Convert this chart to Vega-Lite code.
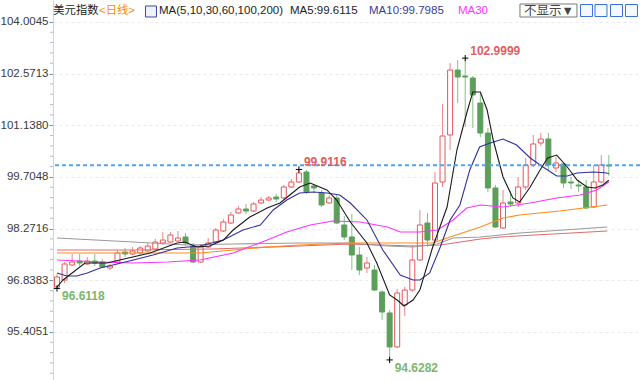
{
  "$schema": "https://vega.github.io/schema/vega-lite/v6.json",
  "width": 587,
  "height": 380,
  "autosize": {"type": "none"},
  "padding": {"left": 53, "top": 0, "right": 0, "bottom": 0},
  "background": "white",
  "config": {"view": {"stroke": null}, "font": "Liberation Sans, Noto Sans CJK SC"},
  "datasets": {
    "candles": [
      {"i":0,"o":96.651,"c":96.928,"h":97.011,"l":96.6118},
      {"i":1,"o":96.845,"c":97.289,"h":97.344,"l":96.762},
      {"i":2,"o":97.261,"c":97.344,"h":97.566,"l":97.233},
      {"i":3,"o":97.372,"c":97.317,"h":97.566,"l":97.233},
      {"i":4,"o":97.289,"c":97.372,"h":97.483,"l":97.261},
      {"i":5,"o":97.372,"c":97.317,"h":97.566,"l":97.233},
      {"i":6,"o":97.344,"c":97.205,"h":97.427,"l":97.178},
      {"i":7,"o":97.178,"c":97.233,"h":97.289,"l":97.122},
      {"i":8,"o":97.344,"c":97.594,"h":97.677,"l":97.289},
      {"i":9,"o":97.621,"c":97.566,"h":97.733,"l":97.483},
      {"i":10,"o":97.566,"c":97.649,"h":97.76,"l":97.538},
      {"i":11,"o":97.594,"c":97.733,"h":97.788,"l":97.538},
      {"i":12,"o":97.649,"c":97.788,"h":97.871,"l":97.621},
      {"i":13,"o":97.705,"c":97.899,"h":97.982,"l":97.677},
      {"i":14,"o":97.871,"c":97.954,"h":98.176,"l":97.816},
      {"i":15,"o":97.899,"c":98.093,"h":98.176,"l":97.871},
      {"i":16,"o":97.927,"c":98.01,"h":98.204,"l":97.899},
      {"i":17,"o":98.038,"c":97.871,"h":98.149,"l":97.788},
      {"i":18,"o":97.788,"c":97.344,"h":97.871,"l":97.317},
      {"i":19,"o":97.344,"c":97.76,"h":97.844,"l":97.317},
      {"i":20,"o":97.76,"c":97.871,"h":98.01,"l":97.733},
      {"i":21,"o":97.899,"c":98.232,"h":98.287,"l":97.871},
      {"i":22,"o":98.204,"c":98.454,"h":98.537,"l":98.176},
      {"i":23,"o":98.426,"c":98.648,"h":98.731,"l":98.398},
      {"i":24,"o":98.704,"c":98.814,"h":98.898,"l":98.676},
      {"i":25,"o":98.814,"c":98.759,"h":98.953,"l":98.676},
      {"i":26,"o":98.759,"c":98.953,"h":99.009,"l":98.731},
      {"i":27,"o":98.981,"c":99.064,"h":99.147,"l":98.953},
      {"i":28,"o":99.064,"c":99.12,"h":99.175,"l":99.037},
      {"i":29,"o":99.147,"c":99.092,"h":99.23,"l":99.009},
      {"i":30,"o":99.12,"c":99.425,"h":99.48,"l":99.092},
      {"i":31,"o":99.425,"c":99.563,"h":99.647,"l":99.397},
      {"i":32,"o":99.563,"c":99.813,"h":99.9116,"l":99.536},
      {"i":33,"o":99.841,"c":99.286,"h":99.896,"l":99.23},
      {"i":34,"o":99.453,"c":99.397,"h":99.508,"l":99.258},
      {"i":35,"o":99.258,"c":98.925,"h":99.342,"l":98.87},
      {"i":36,"o":98.981,"c":99.12,"h":99.203,"l":98.953},
      {"i":37,"o":99.12,"c":98.426,"h":99.203,"l":98.398},
      {"i":38,"o":98.371,"c":98.038,"h":98.62,"l":97.954},
      {"i":39,"o":98.038,"c":97.539,"h":98.676,"l":97.122},
      {"i":40,"o":97.539,"c":97.122,"h":97.76,"l":96.984},
      {"i":41,"o":97.178,"c":97.317,"h":97.483,"l":97.039},
      {"i":42,"o":97.122,"c":96.568,"h":97.261,"l":96.54},
      {"i":43,"o":96.512,"c":95.957,"h":96.568,"l":95.735},
      {"i":44,"o":95.93,"c":94.987,"h":96.013,"l":94.6282},
      {"i":45,"o":94.987,"c":96.484,"h":96.595,"l":94.959},
      {"i":46,"o":96.152,"c":96.568,"h":96.651,"l":95.846},
      {"i":47,"o":96.568,"c":97.4,"h":97.816,"l":96.512},
      {"i":48,"o":97.4,"c":98.371,"h":98.787,"l":97.372},
      {"i":49,"o":98.426,"c":97.954,"h":98.704,"l":97.76},
      {"i":50,"o":97.954,"c":99.536,"h":99.841,"l":97.871},
      {"i":51,"o":99.563,"c":100.839,"h":101.727,"l":99.425},
      {"i":52,"o":100.867,"c":102.67,"h":102.864,"l":100.451},
      {"i":53,"o":102.67,"c":102.476,"h":102.948,"l":101.755},
      {"i":54,"o":102.504,"c":102.476,"h":102.9999,"l":101.089},
      {"i":55,"o":102.448,"c":101.977,"h":102.504,"l":101.061},
      {"i":56,"o":101.755,"c":100.922,"h":102.032,"l":100.811},
      {"i":57,"o":100.922,"c":99.397,"h":101.061,"l":99.286},
      {"i":58,"o":99.397,"c":98.315,"h":99.48,"l":98.287},
      {"i":59,"o":98.287,"c":98.981,"h":99.342,"l":98.26},
      {"i":60,"o":99.009,"c":98.953,"h":99.314,"l":98.87},
      {"i":61,"o":98.981,"c":99.425,"h":99.702,"l":98.87},
      {"i":62,"o":99.425,"c":100.035,"h":100.23,"l":99.342},
      {"i":63,"o":100.035,"c":100.618,"h":100.867,"l":99.98},
      {"i":64,"o":100.645,"c":100.756,"h":100.922,"l":100.562},
      {"i":65,"o":100.756,"c":100.035,"h":100.922,"l":99.896},
      {"i":66,"o":99.952,"c":100.09,"h":100.257,"l":99.841},
      {"i":67,"o":100.063,"c":99.536,"h":100.118,"l":99.397},
      {"i":68,"o":99.563,"c":99.536,"h":99.702,"l":99.369},
      {"i":69,"o":99.48,"c":99.453,"h":99.619,"l":99.286},
      {"i":70,"o":99.425,"c":98.842,"h":99.619,"l":98.814},
      {"i":71,"o":98.87,"c":99.563,"h":100.035,"l":98.842},
      {"i":72,"o":99.563,"c":100.035,"h":100.312,"l":99.536},
      {"i":73,"o":100.035,"c":100.007,"h":100.312,"l":99.73}
    ],
    "minor": [
      {"m":94.2585},{"m":94.5452},{"m":94.8318},{"m":95.1185},{"m":95.6917},{"m":95.9784},{"m":96.265},{"m":96.5517},{"m":97.125},{"m":97.4116},{"m":97.6983},{"m":97.9849},{"m":98.5582},{"m":98.8449},{"m":99.1315},{"m":99.4182},{"m":99.9914},{"m":100.2781},{"m":100.5647},{"m":100.8514},{"m":101.4247},{"m":101.7113},{"m":101.998},{"m":102.2846},{"m":102.8579},{"m":103.1446},{"m":103.4312},{"m":103.7179}
    ],
    "ma": [
      {"ma":"MA200","i":0,"v":97.677},{"ma":"MA200","i":10.1,"v":97.677},{"ma":"MA200","i":20.6,"v":97.705},{"ma":"MA200","i":32.1,"v":97.788},{"ma":"MA200","i":38.8,"v":97.844},{"ma":"MA200","i":47.1,"v":97.788},{"ma":"MA200","i":50.7,"v":97.816},{"ma":"MA200","i":56,"v":97.982},{"ma":"MA200","i":58.6,"v":98.038},{"ma":"MA200","i":72.8,"v":98.204},
      {"ma":"MA100","i":0,"v":98.01},{"ma":"MA100","i":10.1,"v":97.899},{"ma":"MA100","i":17.2,"v":97.816},{"ma":"MA100","i":23.3,"v":97.844},{"ma":"MA100","i":32.1,"v":97.871},{"ma":"MA100","i":38.8,"v":97.871},{"ma":"MA100","i":43.7,"v":97.788},{"ma":"MA100","i":47.1,"v":97.76},{"ma":"MA100","i":50.3,"v":97.844},{"ma":"MA100","i":52.4,"v":98.01},{"ma":"MA100","i":56,"v":98.038},{"ma":"MA100","i":61.2,"v":98.149},{"ma":"MA100","i":72.8,"v":98.315},
      {"ma":"MA60","i":0,"v":97.594},{"ma":"MA60","i":10.1,"v":97.594},{"ma":"MA60","i":18.9,"v":97.594},{"ma":"MA60","i":23.3,"v":97.677},{"ma":"MA60","i":27.8,"v":97.76},{"ma":"MA60","i":32.1,"v":97.816},{"ma":"MA60","i":38.8,"v":97.871},{"ma":"MA60","i":49.7,"v":97.871},{"ma":"MA60","i":52,"v":98.038},{"ma":"MA60","i":56,"v":98.315},{"ma":"MA60","i":59,"v":98.565},{"ma":"MA60","i":61.2,"v":98.648},{"ma":"MA60","i":66.5,"v":98.759},{"ma":"MA60","i":72.8,"v":98.926},
      {"ma":"MA30","i":0,"v":97.4},{"ma":"MA30","i":5.7,"v":97.344},{"ma":"MA30","i":10.1,"v":97.317},{"ma":"MA30","i":14.6,"v":97.344},{"ma":"MA30","i":18.9,"v":97.4},{"ma":"MA30","i":23.3,"v":97.594},{"ma":"MA30","i":27.8,"v":97.954},{"ma":"MA30","i":30.4,"v":98.176},{"ma":"MA30","i":33.5,"v":98.371},{"ma":"MA30","i":36.5,"v":98.482},{"ma":"MA30","i":40.1,"v":98.454},{"ma":"MA30","i":43.7,"v":98.315},{"ma":"MA30","i":45.4,"v":98.176},{"ma":"MA30","i":48,"v":98.176},{"ma":"MA30","i":50.3,"v":98.232},{"ma":"MA30","i":52.4,"v":98.51},{"ma":"MA30","i":54.2,"v":98.842},{"ma":"MA30","i":56,"v":98.926},{"ma":"MA30","i":59,"v":98.87},{"ma":"MA30","i":62.6,"v":98.981},{"ma":"MA30","i":66.1,"v":99.12},{"ma":"MA30","i":69.2,"v":99.203},{"ma":"MA30","i":71.4,"v":99.342},{"ma":"MA30","i":73,"v":99.563},
      {"ma":"MA10","i":0,"v":97.039},{"ma":"MA10","i":1.3,"v":96.956},{"ma":"MA10","i":2.6,"v":96.956},{"ma":"MA10","i":4,"v":97.039},{"ma":"MA10","i":5.7,"v":97.178},{"ma":"MA10","i":7.4,"v":97.261},{"ma":"MA10","i":10.1,"v":97.4},{"ma":"MA10","i":12.7,"v":97.539},{"ma":"MA10","i":15.9,"v":97.733},{"ma":"MA10","i":18.9,"v":97.788},{"ma":"MA10","i":22,"v":97.954},{"ma":"MA10","i":24.6,"v":98.232},{"ma":"MA10","i":26.9,"v":98.371},{"ma":"MA10","i":28.6,"v":98.787},{"ma":"MA10","i":30.4,"v":99.064},{"ma":"MA10","i":32.1,"v":99.258},{"ma":"MA10","i":33.9,"v":99.286},{"ma":"MA10","i":35.7,"v":99.258},{"ma":"MA10","i":37.4,"v":99.203},{"ma":"MA10","i":38.8,"v":98.981},{"ma":"MA10","i":41,"v":98.51},{"ma":"MA10","i":43.1,"v":97.677},{"ma":"MA10","i":45.4,"v":96.984},{"ma":"MA10","i":47.1,"v":96.845},{"ma":"MA10","i":48,"v":96.845},{"ma":"MA10","i":49.3,"v":97.039},{"ma":"MA10","i":50.7,"v":97.76},{"ma":"MA10","i":52,"v":98.51},{"ma":"MA10","i":53.3,"v":98.926},{"ma":"MA10","i":54.6,"v":99.897},{"ma":"MA10","i":55.9,"v":100.534},{"ma":"MA10","i":57.3,"v":100.645},{"ma":"MA10","i":59,"v":100.756},{"ma":"MA10","i":60.8,"v":100.59},{"ma":"MA10","i":62.6,"v":100.229},{"ma":"MA10","i":64.3,"v":99.98},{"ma":"MA10","i":66.1,"v":99.73},{"ma":"MA10","i":67.5,"v":99.73},{"ma":"MA10","i":68.8,"v":99.813},{"ma":"MA10","i":70.9,"v":99.841},{"ma":"MA10","i":72.5,"v":99.82},{"ma":"MA10","i":73,"v":99.7985},
      {"ma":"MA5","i":0,"v":96.651},{"ma":"MA5","i":0.8,"v":96.845},{"ma":"MA5","i":3.7,"v":97.317},{"ma":"MA5","i":6.6,"v":97.317},{"ma":"MA5","i":8.3,"v":97.4},{"ma":"MA5","i":12.3,"v":97.594},{"ma":"MA5","i":15.9,"v":97.871},{"ma":"MA5","i":16.9,"v":97.899},{"ma":"MA5","i":18.5,"v":97.76},{"ma":"MA5","i":20.2,"v":97.788},{"ma":"MA5","i":22,"v":97.954},{"ma":"MA5","i":23.3,"v":98.232},{"ma":"MA5","i":25.5,"v":98.593},{"ma":"MA5","i":27.8,"v":98.842},{"ma":"MA5","i":29.5,"v":98.981},{"ma":"MA5","i":30.8,"v":99.203},{"ma":"MA5","i":32.1,"v":99.425},{"ma":"MA5","i":33.5,"v":99.536},{"ma":"MA5","i":34.1,"v":99.48},{"ma":"MA5","i":35.7,"v":99.342},{"ma":"MA5","i":37,"v":99.064},{"ma":"MA5","i":38.8,"v":98.454},{"ma":"MA5","i":41,"v":97.871},{"ma":"MA5","i":42.3,"v":97.317},{"ma":"MA5","i":44,"v":96.429},{"ma":"MA5","i":45,"v":96.29},{"ma":"MA5","i":45.9,"v":96.124},{"ma":"MA5","i":47.1,"v":96.29},{"ma":"MA5","i":48,"v":96.568},{"ma":"MA5","i":49.7,"v":97.76},{"ma":"MA5","i":51.6,"v":98.87},{"ma":"MA5","i":52.9,"v":100.451},{"ma":"MA5","i":54.2,"v":101.477},{"ma":"MA5","i":55,"v":102.06},{"ma":"MA5","i":56,"v":102.06},{"ma":"MA5","i":56.9,"v":101.56},{"ma":"MA5","i":57.7,"v":100.728},{"ma":"MA5","i":59,"v":99.702},{"ma":"MA5","i":60.3,"v":99.12},{"ma":"MA5","i":61.2,"v":99.009},{"ma":"MA5","i":62.6,"v":99.425},{"ma":"MA5","i":63.9,"v":99.896},{"ma":"MA5","i":64.9,"v":100.229},{"ma":"MA5","i":66.1,"v":100.312},{"ma":"MA5","i":67.5,"v":99.98},{"ma":"MA5","i":68.8,"v":99.619},{"ma":"MA5","i":70.1,"v":99.425},{"ma":"MA5","i":71.2,"v":99.397},{"ma":"MA5","i":72.2,"v":99.48},{"ma":"MA5","i":73,"v":99.6115}
    ]
  },
  "layer": [
    {
      "data": {"name": "candles"},
      "mark": {"type": "rule", "strokeWidth": 1},
      "encoding": {
        "x": {"field": "i", "type": "quantitative", "scale": {"domain": [-0.53, 77.12], "nice": false, "zero": false, "padding": 0}, "axis": null},
        "y": {"field": "l", "type": "quantitative",
          "scale": {"domain": [94.0711, 104.6119], "nice": false, "zero": false, "padding": 0},
          "axis": {
            "title": null,
            "orient": "left",
            "values": [95.4051, 96.8383, 98.2716, 99.7048, 101.138, 102.5713, 104.0045],
            "format": ".4f",
            "tickSize": 4,
            "grid": true,
            "gridColor": "#ebebeb",
            "gridDash": [3, 3],
            "tickColor": "#7f8fa4",
            "domainColor": "#c8d6e4",
            "labelColor": "#3a3a3a",
            "labelFont": "Liberation Sans",
            "labelFontSize": 11.5,
            "labelPadding": 1,
            "labelOverlap": false,
            "labelBound": false,
            "labelFlush": false
          }
        },
        "y2": {"field": "h"},
        "color": {"condition": {"test": "datum.c >= datum.o", "value": "#ec8686"}, "value": "#86bf86"}
      }
    },
    {
      "data": {"name": "minor"},
      "mark": {"type": "tick", "orient": "horizontal", "size": 3, "thickness": 1, "color": "#b0bccb", "xOffset": -1.5, "opacity": 1},
      "encoding": {
        "x": {"datum": -0.53, "type": "quantitative"},
        "y": {"field": "m", "type": "quantitative"}
      }
    },
    {
      "data": {"name": "candles"},
      "mark": {"type": "bar", "size": 5, "orient": "vertical", "strokeWidth": 1},
      "encoding": {
        "x": {"field": "i", "type": "quantitative"},
        "y": {"field": "o", "type": "quantitative"},
        "y2": {"field": "c"},
        "fill": {"condition": {"test": "datum.c >= datum.o", "value": "#ffffff"}, "value": "#5b9f5b"},
        "stroke": {"condition": {"test": "datum.c >= datum.o", "value": "#e45858"}, "value": "#5b9f5b"}
      }
    },
    {
      "data": {"name": "ma"},
      "mark": {"type": "line", "strokeWidth": 1.1},
      "encoding": {
        "x": {"field": "i", "type": "quantitative"},
        "y": {"field": "v", "type": "quantitative"},
        "color": {"field": "ma", "type": "nominal", "legend": null,
          "scale": {"domain": ["MA200", "MA100", "MA60", "MA30", "MA10", "MA5"], "range": ["#e26a6a", "#9a9a9a", "#ff8c1a", "#ff33ff", "#2f2f9e", "#1a1a1a"]}},
        "detail": {"field": "ma"}
      }
    },
    {
      "data": {"values": [{}]},
      "mark": {"type": "rule", "stroke": "#4da3ff", "strokeWidth": 2, "strokeDash": [4, 3]},
      "encoding": {"y": {"datum": 100.03, "type": "quantitative"}}
    },
    {
      "data": {"name": "candles"},
      "transform": [{"filter": "datum.i == 32 || datum.i == 54"}],
      "layer": [
        {
          "mark": {"type": "point", "shape": "M-1,0H1M0,-1V1", "size": 40, "filled": false, "stroke": "#000000", "strokeWidth": 1, "opacity": 1},
          "encoding": {"x": {"field": "i", "type": "quantitative"}, "y": {"field": "h", "type": "quantitative"}}
        },
        {
          "mark": {"type": "text", "align": "left", "baseline": "middle", "dx": 5, "dy": -7, "fontSize": 12, "fontWeight": "bold", "color": "#e35d5d"},
          "encoding": {"x": {"field": "i", "type": "quantitative"}, "y": {"field": "h", "type": "quantitative"}, "text": {"field": "h", "type": "quantitative", "format": ".4f"}}
        }
      ]
    },
    {
      "data": {"name": "candles"},
      "transform": [{"filter": "datum.i == 0 || datum.i == 44"}],
      "layer": [
        {
          "mark": {"type": "point", "shape": "M-1,0H1M0,-1V1", "size": 40, "filled": false, "stroke": "#000000", "strokeWidth": 1, "opacity": 1},
          "encoding": {"x": {"field": "i", "type": "quantitative"}, "y": {"field": "l", "type": "quantitative"}}
        },
        {
          "mark": {"type": "text", "align": "left", "baseline": "middle", "dx": 5, "dy": 8, "fontSize": 12, "fontWeight": "bold", "color": "#7db66c"},
          "encoding": {"x": {"field": "i", "type": "quantitative"}, "y": {"field": "l", "type": "quantitative"}, "text": {"field": "l", "type": "quantitative", "format": ".4f"}}
        }
      ]
    },
    {
      "data": {"values": [{}]},
      "mark": {"type": "text", "text": "美元指数", "align": "left", "baseline": "middle", "fontSize": 11.3, "color": "#222222"},
      "encoding": {"x": {"datum": -0.49, "type": "quantitative"}, "y": {"datum": 104.293, "type": "quantitative"}}
    },
    {
      "data": {"values": [{}]},
      "mark": {"type": "text", "text": "<日线>", "align": "left", "baseline": "middle", "fontSize": 11.3, "color": "#ff8a00"},
      "encoding": {"x": {"datum": 5.56, "type": "quantitative"}, "y": {"datum": 104.293, "type": "quantitative"}}
    },
    {
      "data": {"values": [{}]},
      "mark": {"type": "point", "shape": "square", "size": 121, "filled": true, "fill": "#eef2fc", "stroke": "#3b4aa8", "strokeWidth": 1, "opacity": 1},
      "encoding": {"x": {"datum": 12.43, "type": "quantitative"}, "y": {"datum": 104.293, "type": "quantitative"}}
    },
    {
      "data": {"values": [{}]},
      "mark": {"type": "text", "text": "MA(5,10,30,60,100,200)", "align": "left", "baseline": "middle", "fontSize": 11.5, "color": "#222222"},
      "encoding": {"x": {"datum": 13.49, "type": "quantitative"}, "y": {"datum": 104.293, "type": "quantitative"}}
    },
    {
      "data": {"values": [{}]},
      "mark": {"type": "text", "text": "MA5:99.6115", "align": "left", "baseline": "middle", "fontSize": 11.5, "color": "#222222"},
      "encoding": {"x": {"datum": 30.82, "type": "quantitative"}, "y": {"datum": 104.293, "type": "quantitative"}}
    },
    {
      "data": {"values": [{}]},
      "mark": {"type": "text", "text": "MA10:99.7985", "align": "left", "baseline": "middle", "fontSize": 11.5, "color": "#3a3a9c"},
      "encoding": {"x": {"datum": 41.27, "type": "quantitative"}, "y": {"datum": 104.293, "type": "quantitative"}}
    },
    {
      "data": {"values": [{}]},
      "mark": {"type": "text", "text": "MA30", "align": "left", "baseline": "middle", "fontSize": 11.5, "color": "#ff33ff"},
      "encoding": {"x": {"datum": 53.04, "type": "quantitative"}, "y": {"datum": 104.293, "type": "quantitative"}}
    },
    {
      "data": {"values": [{}]},
      "mark": {"type": "rect", "fill": "#ffffff", "stroke": "#7a7a7a", "strokeWidth": 1},
      "encoding": {
        "x": {"datum": 61.24, "type": "quantitative"}, "x2": {"datum": 68.78},
        "y": {"datum": 104.501, "type": "quantitative"}, "y2": {"datum": 104.14}
      }
    },
    {
      "data": {"values": [{}]},
      "mark": {"type": "text", "text": "不显示▼", "align": "left", "baseline": "middle", "fontSize": 12.5, "color": "#444444"},
      "encoding": {"x": {"datum": 61.77, "type": "quantitative"}, "y": {"datum": 104.31, "type": "quantitative"}}
    },
    {
      "data": {"values": [{"k": 70.04}, {"k": 71.96}, {"k": 74.01}, {"k": 75.99}]},
      "mark": {"type": "point", "shape": "square", "size": 144, "filled": true, "fill": "#f4f8ff", "stroke": "#3a6fd8", "strokeWidth": 1, "opacity": 1},
      "encoding": {"x": {"field": "k", "type": "quantitative"}, "y": {"datum": 104.32, "type": "quantitative"}}
    }
  ]
}
